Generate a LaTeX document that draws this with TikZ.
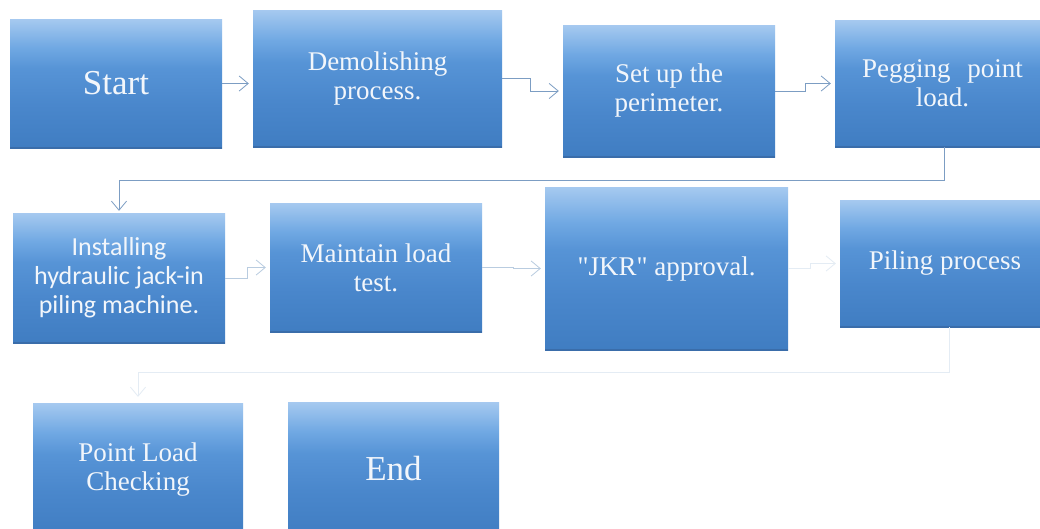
\documentclass[tikz,border=0pt]{standalone}
\usepackage{fontspec}
\setmainfont{Liberation Serif}
\newfontfamily\serifbody{Liberation Serif}
\newfontfamily\sansbody{Carlito}
\usetikzlibrary{arrows.meta}

\definecolor{boxtext}{HTML}{F2F6FB}
\definecolor{boxedge}{HTML}{3A6DAA}
\definecolor{linkdark}{HTML}{7C9DC3}
\definecolor{linklight}{HTML}{B9CCE0}
\definecolor{linkghost}{HTML}{E4ECF4}

% box fill: light at the top, quickly reaching mid blue, slowly darker below
% (a node covers the band from 25bp to 75bp of the shading)
\pgfdeclareverticalshading{boxfill}{100bp}{%
  rgb(0bp)=(0.25,0.49,0.76);
  rgb(25bp)=(0.25,0.49,0.76);
  rgb(42bp)=(0.29,0.53,0.80);
  rgb(56bp)=(0.34,0.58,0.84);
  rgb(64bp)=(0.44,0.66,0.89);
  rgb(75bp)=(0.65,0.79,0.94);
  rgb(100bp)=(0.65,0.79,0.94)}

\begin{document}
\begin{tikzpicture}[x=1pt,y=-1pt,
  stepbox/.style={rectangle, inner sep=0pt, draw=none,
    shading=boxfill, text=boxtext, align=center,
    font=\serifbody\fontsize{27}{29}\selectfont,
    path picture={\draw[boxedge, line width=2pt]
      (path picture bounding box.south west) --
      (path picture bounding box.south east);}},
  bigtext/.style={font=\serifbody\fontsize{35}{38}\selectfont},
  flow/.style={draw=linkdark, line width=0.8pt,
    -{Straight Barb[length=9pt,width=15pt,line width=0.8pt]},
    shorten >=4pt},
  flowlight/.style={flow, draw=linklight},
  flowghost/.style={flow, draw=linkghost}]

  % page
  \path[use as bounding box, clip] (0,0) rectangle (1040,528);
  \fill[white] (0,0) rectangle (1040,528);

  % first row
  \node[stepbox, bigtext, minimum width=212pt, minimum height=129pt]
    (start) at (116,83.5) {Start};
  \node[stepbox, minimum width=249pt, minimum height=137pt]
    (demol) at (377.5,78.5) {Demolishing\\process.};
  \node[stepbox, minimum width=212pt, minimum height=132pt]
    (setup) at (669,91) {Set up the\\perimeter.};
  \node[stepbox, minimum width=215pt, minimum height=127pt]
    (peg) at (942.5,83.5) {Pegging\hspace{0.62em}point\\load.};

  % second row
  \node[stepbox, font=\sansbody\fontsize{26}{29}\selectfont,
    minimum width=212pt, minimum height=130pt]
    (inst) at (119,278) {Installing\\hydraulic jack-in\\piling machine.};
  \node[stepbox, minimum width=212pt, minimum height=129pt]
    (maint) at (376,267.5) {Maintain load\\test.};
  \node[stepbox, minimum width=243pt, minimum height=163pt]
    (jkr) at (666.5,268.5) {\symbol{34}JKR\symbol{34} approval.};
  \node[stepbox, minimum width=210pt, minimum height=127pt]
    (piling) at (945,263.5) {Piling process};

  % third row
  \node[stepbox, minimum width=210pt, minimum height=134pt]
    (point) at (138,470) {Point Load\\Checking};
  \node[stepbox, bigtext, minimum width=211pt, minimum height=134pt]
    (end) at (393.5,469) {End};

  % connectors
  \draw[flow] (start.east) -- (start.east -| demol.west);
  \draw[flow] (demol.east) -- ++(28,0) |- (setup.west);
  \draw[flow] (setup.east) -- ++(30,0) |- (peg.west);
  \draw[flow, shorten >=2pt] ([xshift=2pt]peg.south) -- ++(0,33) -| (inst.north);
  \draw[flowlight] (inst.east) -- ++(22,0) |- (maint.west);
  \draw[flowlight] (maint.east) -- ++(31,0) |- (jkr.west);
  \draw[flowghost] (jkr.east) -- ++(22,0) |- (piling.west);
  \draw[flowghost, shorten >=6pt] ([xshift=4pt]piling.south) -- ++(0,45) -| (point.north);
\end{tikzpicture}
\end{document}
